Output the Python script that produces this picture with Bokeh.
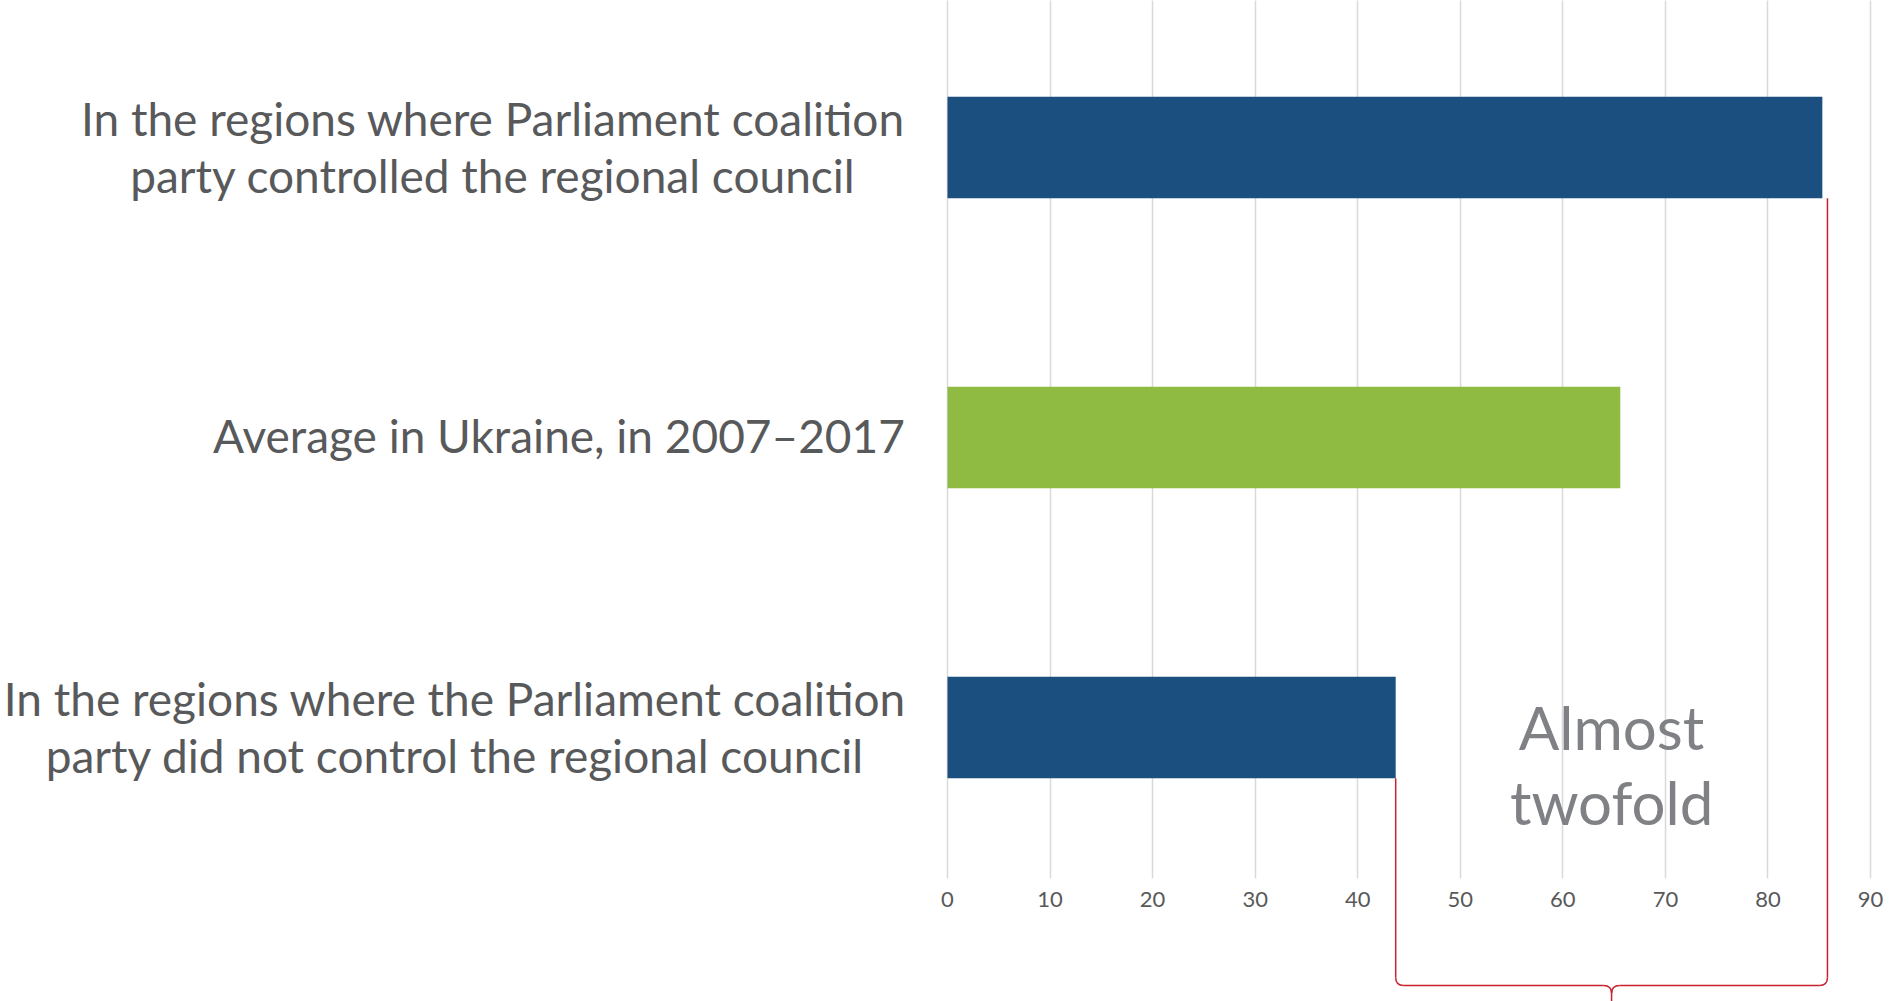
from bokeh.plotting import figure
from bokeh.models import Range1d, LinearAxis, FixedTicker, Grid, ColumnDataSource
from bokeh.core.properties import value
from bokeh.embed import file_html
from bokeh.resources import INLINE

# ---------------- data ----------------
categories = [
    "In the regions where Parliament coalition\nparty controlled the regional council",
    "Average in Ukraine, in 2007–2017",
    "In the regions where the Parliament coalition\nparty did not control the regional council",
]
values = [85.3, 65.6, 43.7]
tick_values = [0, 10, 20, 30, 40, 50, 60, 70, 80, 90]
annotation_lines = ["Almost", "twofold"]

# ---------------- style / layout ----------------
bar_colors = ["#1b4f80", "#8fbb43", "#1b4f80"]
W, H = 1895, 1001
X0_PX = 947            # canvas x of value 0
PX_PER_UNIT = 10.256   # pixels per value unit
ROW_PX = 290           # pixels between category rows
LAST_ROW_PX = 727      # canvas y of the last category centre
BAR_H = 0.35
label_center_px = [-454.5, -388.5, -492.5]   # block centre relative to value 0
FONT_NAME = "Lato"
FONT = value(FONT_NAME)
LABEL_COLOR = "#58595b"
RED = "#c8202d"

n = len(categories)
ypos = [n - 1 - i for i in range(n)]

x_range = Range1d(-X0_PX / PX_PER_UNIT, (W - X0_PX) / PX_PER_UNIT)
y_range = Range1d(-(H - LAST_ROW_PX) / ROW_PX, LAST_ROW_PX / ROW_PX)
grid_bottom = -151 / ROW_PX       # gridlines end below last row
bracket_y = -258 / ROW_PX

p = figure(width=W, height=H, x_range=x_range, y_range=y_range,
           x_axis_type=None, y_axis_type=None,
           toolbar_location=None, output_backend="svg",
           min_border=0, outline_line_color=None,
           background_fill_color="white", border_fill_color="white")

# grid lines
grid = Grid(dimension=0, ticker=FixedTicker(ticks=tick_values),
            grid_line_color="#d9d9d9", grid_line_width=1.5)
use_grid = True
try:
    grid.cross_bounds = (grid_bottom, y_range.end + 1)
except Exception:
    use_grid = False
if use_grid:
    p.add_layout(grid)
else:
    p.segment(x0=tick_values, x1=tick_values, y0=[grid_bottom] * len(tick_values),
              y1=[y_range.end + 1] * len(tick_values), line_color="#d9d9d9", line_width=1.5)

# x axis with labels placed at the grid bottom
ax = LinearAxis(ticker=FixedTicker(ticks=tick_values), fixed_location=grid_bottom,
                axis_line_color=None, major_tick_line_color=None,
                minor_tick_line_color=None, major_tick_out=0, major_tick_in=0,
                major_label_text_font=FONT_NAME, major_label_text_font_size="22px",
                major_label_text_color="#595959", major_label_standoff=13)
p.add_layout(ax, "below")

# bars
src = ColumnDataSource(dict(y=ypos, v=values, c=bar_colors))
p.hbar(y="y", left=0, right="v", height=BAR_H, fill_color="c", line_color=None, source=src)

# category labels (each line centred in its block)
lx, ly, lt, lxo, lyo = [], [], [], [], []
for i, cat in enumerate(categories):
    lines = cat.split("\n")
    offs = [-2] if len(lines) == 1 else [-29, 28]
    for line, yo in zip(lines, offs):
        lx.append(0)
        ly.append(ypos[i])
        lt.append(line)
        lxo.append(label_center_px[i])
        lyo.append(yo)
p.text(x=lx, y=ly, text=lt, x_offset=lxo, y_offset=lyo,
       text_align="center", text_baseline="alphabetic",
       text_font=FONT, text_font_size="46px", text_color=LABEL_COLOR)

# bracket between top and bottom bars
xl = values[2]
xr = values[0] + 0.5
xc = (xl + xr) / 2
rx = 8 / PX_PER_UNIT
ry = 8 / ROW_PX
y_top_bot = ypos[0] - BAR_H / 2
y_low_bot = ypos[2] - BAR_H / 2
tip_end = y_range.start - 0.05
p.multi_line(
    xs=[[xl, xl], [xl + rx, xc - rx], [xc, xc], [xr, xr], [xr - rx, xc + rx]],
    ys=[[y_low_bot, bracket_y + ry], [bracket_y, bracket_y], [bracket_y - ry, tip_end],
        [y_top_bot, bracket_y + ry], [bracket_y, bracket_y]],
    line_color=RED, line_width=1.5)
p.quadratic(x0=[xl, xr, xc - rx, xc + rx], y0=[bracket_y + ry, bracket_y + ry, bracket_y, bracket_y],
            x1=[xl + rx, xr - rx, xc, xc], y1=[bracket_y, bracket_y, bracket_y - ry, bracket_y - ry],
            cx=[xl, xr, xc, xc], cy=[bracket_y, bracket_y, bracket_y, bracket_y],
            line_color=RED, line_width=1.5)

# annotation text
p.text(x=[xc] * len(annotation_lines), y=[ypos[2]] * len(annotation_lines),
       text=annotation_lines, y_offset=[-1, 74],
       text_align="center", text_baseline="alphabetic",
       text_font=FONT, text_font_size="60px", text_color="#7f8185")

open("out.html", "w").write(file_html(p, INLINE))
